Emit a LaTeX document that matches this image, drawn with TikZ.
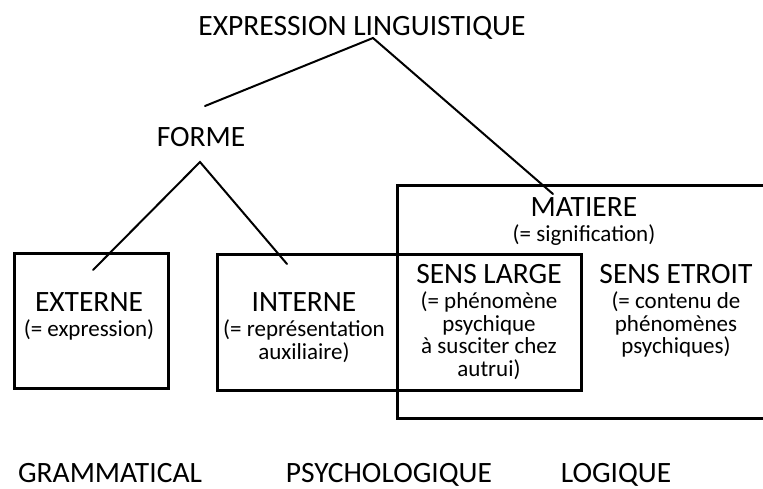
\documentclass[tikz,border=0pt]{standalone}
\usepackage{fontspec}
\setmainfont{Carlito}
\begin{document}
\begin{tikzpicture}[x=1pt,y=-1pt,
  big/.style={font=\fontsize{29.5}{30}\selectfont, anchor=base, inner sep=0pt},
  small/.style={font=\fontsize{23}{22.5}\selectfont, anchor=base, inner sep=0pt, align=center},
  boxline/.style={line width=3pt},
  conn/.style={line width=2pt, line cap=round}]
\useasboundingbox (0,0) rectangle (763,488);

% titles (multi-line nodes are placed by the baseline of their last line)
\node[big] (expr) at (362,35) {EXPRESSION LINGUISTIQUE};
\node[big] (forme) at (201,146) {FORME};
\node[big] (externe) at (89,311) {EXTERNE};
\node[small] (externeD) at (89,336.5) {(= expression)};
\node[big] (interne) at (304,311) {INTERNE};
\node[small] (interneD) at (304,359) {(= représentation\\auxiliaire)};
\node[big] (matiere) at (584,216) {MATIERE};
\node[small] (matiereD) at (584,241.5) {(= signification)};
\node[big] (large) at (489,283) {SENS LARGE};
\node[small] (largeD) at (489,376) {(= phénomène\\psychique\\à susciter chez\\autrui)};
\node[big] (etroit) at (676,283) {SENS ETROIT};
\node[small] (etroitD) at (676,353.5) {(= contenu de\\phénomènes\\psychiques)};
\node[big] (gram) at (110,482) {GRAMMATICAL};
\node[big] (psy) at (389,482) {PSYCHOLOGIQUE};
\node[big] (log) at (616,482) {LOGIQUE};

% boxes
\draw[boxline] (14,253) rectangle (168,388);
\draw[boxline] (217,254) rectangle (581,390);
\draw[boxline] (766,185) -- (397,185) -- (397,418) -- (766,418);

% connectors
\coordinate (top) at (373,38);
\coordinate (fl) at (205,106);
\coordinate (mt) at (553,194);
\coordinate (fa) at (200,162);
\coordinate (fe) at (93,270);
\coordinate (fi) at (287,264);
\draw[conn] (fl) -- (top) -- (mt);
\draw[conn] (fe) -- (fa) -- (fi);
\end{tikzpicture}
\end{document}
